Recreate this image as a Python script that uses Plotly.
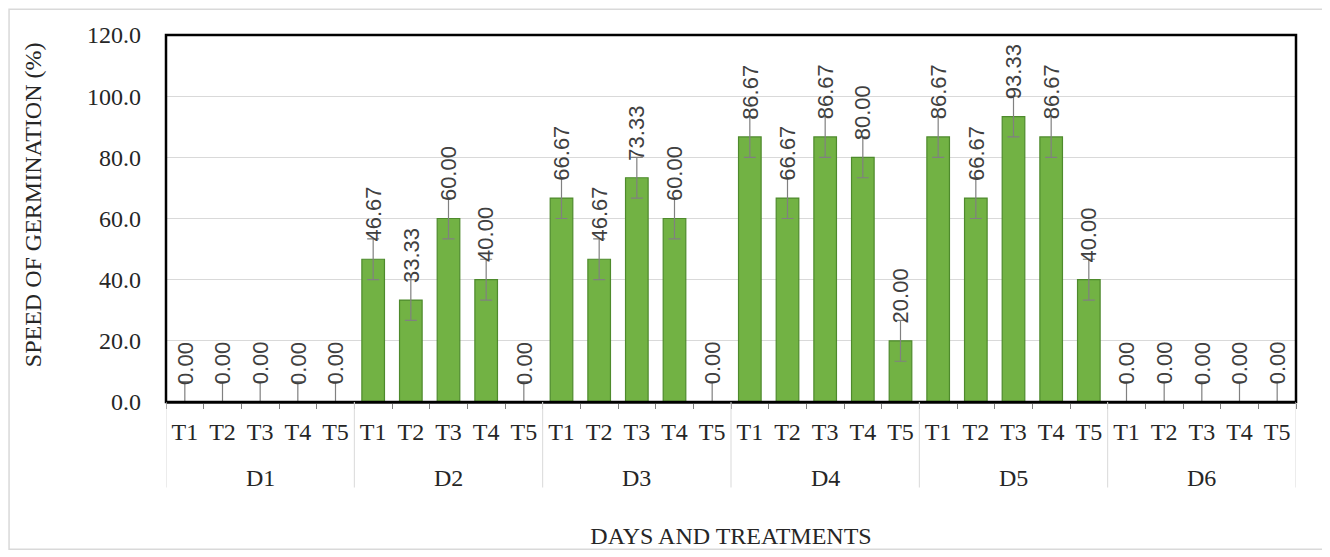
import plotly.graph_objects as go

days = ["D1", "D2", "D3", "D4", "D5", "D6"]
treatments = ["T1", "T2", "T3", "T4", "T5"]
values = [
    0.00, 0.00, 0.00, 0.00, 0.00,
    46.67, 33.33, 60.00, 40.00, 0.00,
    66.67, 46.67, 73.33, 60.00, 0.00,
    86.67, 66.67, 86.67, 80.00, 20.00,
    86.67, 66.67, 93.33, 86.67, 40.00,
    0.00, 0.00, 0.00, 0.00, 0.00,
]
errors = [6.67] * 30

x_keys = [f"{d}-{t}" for d in days for t in treatments]
x_ticktext = [t for _ in days for t in treatments]

SERIF = "Liberation Serif"
TXT = "#262626"

fig = go.Figure()
fig.add_trace(go.Bar(
    x=x_keys, y=values,
    marker=dict(color="#72B244", line=dict(color="#4E8A2C", width=1.2)),
    error_y=dict(type="data", array=errors, color="#808080", thickness=1.2, width=6),
    width=0.6,
))

annotations = []
for i, (v, e) in enumerate(zip(values, errors)):
    annotations.append(dict(
        x=x_keys[i], y=v + e, xref="x", yref="y", text=f"{v:.2f}", textangle=-90,
        showarrow=False, yanchor="bottom", xanchor="center", yshift=-5,
        font=dict(family="Liberation Sans", size=22, color="#404040"),
    ))

n_t = len(treatments)
shapes = [
    dict(type="rect", xref="paper", yref="paper", x0=0, x1=1, y0=0, y1=1,
         line=dict(color="black", width=2.5), layer="above"),
    dict(type="rect", xref="paper", yref="paper", x0=-0.1389, x1=1.0274, y0=-0.401, y1=1.0705,
         line=dict(color="#D9D9D9", width=1.5), layer="below"),
]
for g, d in enumerate(days):
    annotations.append(dict(
        x=x_keys[g * n_t + n_t // 2], y=-0.206, xref="x", yref="paper", text=d,
        showarrow=False, yanchor="middle", xanchor="center",
        font=dict(family=SERIF, size=24, color=TXT),
    ))
for g in range(len(days) + 1):
    shapes.append(dict(
        type="line", xref="x", yref="paper", x0=g * n_t - 0.5, x1=g * n_t - 0.5,
        y0=0, y1=-0.233, line=dict(color="#D9D9D9", width=1),
    ))

# y-axis title
annotations.append(dict(
    x=-0.1177, y=0.539, xref="paper", yref="paper", text="SPEED OF GERMINATION (%)",
    textangle=-90, showarrow=False, xanchor="center", yanchor="middle",
    font=dict(family=SERIF, size=24, color=TXT),
))

fig.update_layout(
    width=1322, height=549,
    margin=dict(l=158, r=34, t=27, b=153),
    paper_bgcolor="white", plot_bgcolor="white",
    showlegend=False,
    font=dict(family=SERIF, size=24, color=TXT),
    annotations=annotations,
    shapes=shapes,
    xaxis=dict(
        type="category", categoryarray=x_keys,
        tickvals=x_keys, ticktext=x_ticktext,
        range=[-0.5, len(x_keys) - 0.5],
        showline=True, linecolor="#595959", linewidth=1.5,
        ticks="outside", ticklen=5, tickcolor="#7F7F7F", tickson="boundaries",
        ticklabelstandoff=7,
        tickfont=dict(family=SERIF, size=24, color=TXT),
        title=dict(text="DAYS AND TREATMENTS", font=dict(family=SERIF, size=24, color=TXT), standoff=84),
    ),
    yaxis=dict(
        range=[0, 120], dtick=20, tickformat=".1f",
        showgrid=True, gridcolor="#D9D9D9", gridwidth=1,
        zeroline=False, ticks="", ticklabelstandoff=24,
        tickfont=dict(family=SERIF, size=24, color=TXT),
    ),
)

fig.write_html("out.html")
